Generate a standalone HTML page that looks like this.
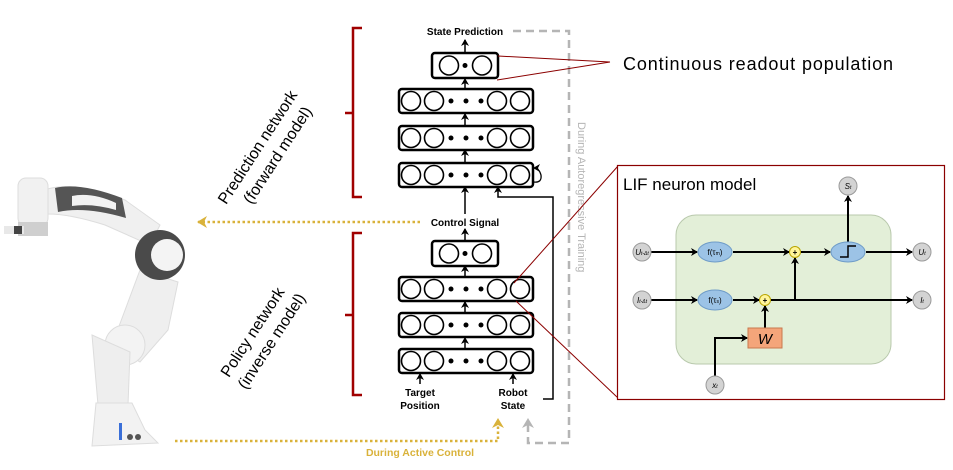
<!DOCTYPE html>
<html><head><meta charset="utf-8"><style>
html,body{margin:0;padding:0;background:#fff;}
svg{display:block;font-family:"Liberation Sans",Arial,sans-serif;}
</style></head><body>
<svg width="953" height="470" viewBox="0 0 953 470" xmlns="http://www.w3.org/2000/svg">
<defs>
<marker id="ab" markerWidth="8" markerHeight="8" refX="6" refY="4" orient="auto" markerUnits="userSpaceOnUse"><path d="M0,0 L7,4 L0,8 L2,4 Z" fill="#000"/></marker>
<marker id="ay" markerWidth="12" markerHeight="12" refX="9" refY="6" orient="auto" markerUnits="userSpaceOnUse"><path d="M0,0 L10,6 L0,12 L3,6 Z" fill="#d9b23a"/></marker>
<marker id="ag" markerWidth="12" markerHeight="12" refX="9" refY="6" orient="auto" markerUnits="userSpaceOnUse"><path d="M0,0 L10,6 L0,12 L3,6 Z" fill="#b5b5b5"/></marker>
<g id="big"><rect x="0" y="0" width="134" height="24" rx="3" fill="#fff" stroke="#000" stroke-width="2.5"/>
<circle cx="12" cy="12" r="9.5" fill="#fff" stroke="#000" stroke-width="1.6"/><circle cx="35" cy="12" r="9.5" fill="#fff" stroke="#000" stroke-width="1.6"/>
<circle cx="52" cy="12" r="2.5"/><circle cx="67" cy="12" r="2.5"/><circle cx="82" cy="12" r="2.5"/>
<circle cx="98" cy="12" r="9.5" fill="#fff" stroke="#000" stroke-width="1.6"/><circle cx="121" cy="12" r="9.5" fill="#fff" stroke="#000" stroke-width="1.6"/></g>
<g id="sm"><rect x="0" y="0" width="66" height="25" rx="3" fill="#fff" stroke="#000" stroke-width="2.5"/>
<circle cx="17" cy="12.5" r="9.5" fill="#fff" stroke="#000" stroke-width="1.6"/><circle cx="33" cy="12.5" r="2.5"/><circle cx="50" cy="12.5" r="9.5" fill="#fff" stroke="#000" stroke-width="1.6"/></g>
</defs>

<!-- robot arm -->
<g>
<path d="M45,190 Q70,180 125,200 L160,225 L150,245 L105,225 Q70,214 48,214 Z" fill="#f0f0f0" stroke="#ddd"/>
<path d="M55,188 Q80,182 122,198 L126,218 Q85,206 58,212 Z" fill="#555"/>
<path d="M72,196 Q92,192 116,203 L116,210 Q92,203 72,206 Z" fill="#f2f2f2"/>
<rect x="18" y="178" width="30" height="48" rx="8" fill="#f1f1f1" stroke="#ddd"/>
<rect x="18" y="222" width="30" height="14" fill="#cfcfcf"/>
<rect x="4" y="226" width="20" height="8" fill="#e8e8e8"/>
<rect x="14" y="226" width="8" height="8" fill="#444"/>
<path d="M140,270 L178,282 L168,330 L140,362 L112,345 Z" fill="#efefef" stroke="#ddd"/>
<circle cx="160" cy="255" r="25" fill="#4a4a4a"/>
<circle cx="167" cy="255" r="16" fill="#f4f4f4"/>
<circle cx="125" cy="345" r="20" fill="#f3f3f3" stroke="#ddd"/>
<path d="M92,335 L130,352 L128,405 L98,405 Z" fill="#eeeeee" stroke="#ddd"/>
<path d="M96,403 L132,403 L145,430 L158,443 L92,446 Z" fill="#f2f2f2" stroke="#ddd"/>
<rect x="119" y="423" width="3" height="17" fill="#3a6fd8"/>
<circle cx="130" cy="437" r="3" fill="#555"/><circle cx="138" cy="437" r="3" fill="#555"/>
</g>

<!-- yellow dotted -->
<line x1="420" y1="222" x2="198" y2="222" stroke="#d9b23a" stroke-width="2.5" stroke-dasharray="2.5,2.5" marker-end="url(#ay)"/>
<polyline points="175,441 498,441 498,419" fill="none" stroke="#d9b23a" stroke-width="2.5" stroke-dasharray="2.5,2.5" marker-end="url(#ay)"/>
<text x="420" y="456" font-size="10.5" font-weight="bold" fill="#d9b23a" text-anchor="middle">During Active Control</text>

<!-- gray dashed -->
<polyline points="513,31 569,31 569,443 528,443 528,419" fill="none" stroke="#b5b5b5" stroke-width="2.5" stroke-dasharray="8,5" marker-end="url(#ag)"/>
<text transform="translate(578,122) rotate(90)" font-size="11" fill="#b5b5b5">During Autoregressive Training</text>

<!-- brackets -->
<path d="M362,28 L353,28 L353,197 L362,197 M353,113 L345,113" fill="none" stroke="#a00000" stroke-width="2.5"/>
<path d="M362,233 L353,233 L353,395 L362,395 M353,315 L345,315" fill="none" stroke="#a00000" stroke-width="2.5"/>
<text transform="translate(262,150) rotate(-57)" font-size="16" text-anchor="middle">Prediction network</text>
<text transform="translate(282,158) rotate(-57)" font-size="16" text-anchor="middle">(forward model)</text>
<text transform="translate(257,335) rotate(-57)" font-size="16" text-anchor="middle">Policy network</text>
<text transform="translate(276,344) rotate(-57)" font-size="16" text-anchor="middle">(inverse model)</text>

<!-- network -->
<text x="465" y="35" font-size="10" font-weight="bold" text-anchor="middle">State Prediction</text>
<use href="#sm" x="432" y="53"/>
<use href="#big" x="399" y="89"/>
<use href="#big" x="399" y="126"/>
<use href="#big" x="399" y="163"/>
<text x="465" y="226" font-size="10" font-weight="bold" text-anchor="middle">Control Signal</text>
<use href="#sm" x="432" y="241"/>
<use href="#big" x="399" y="277"/>
<use href="#big" x="399" y="313"/>
<use href="#big" x="399" y="349"/>
<g stroke="#000" stroke-width="1.5" marker-end="url(#ab)">
<line x1="465" y1="52" x2="465" y2="40"/>
<line x1="465" y1="88" x2="465" y2="79"/>
<line x1="465" y1="125" x2="465" y2="114"/>
<line x1="465" y1="162" x2="465" y2="150"/>
<line x1="465" y1="214" x2="465" y2="187"/>
<line x1="465" y1="240" x2="465" y2="229"/>
<line x1="465" y1="276" x2="465" y2="266"/>
<line x1="465" y1="312" x2="465" y2="302"/>
<line x1="465" y1="348" x2="465" y2="338"/>
<line x1="420" y1="384" x2="420" y2="374"/>
<line x1="513" y1="384" x2="513" y2="374"/>
<polyline points="543,399 553,399 553,197 498,197 498,187" fill="none"/>
</g>
<path d="M534,182 Q542,183 541,175 Q539,168 534,168" fill="none" stroke="#000" stroke-width="1.3" marker-end="url(#ab)"/>
<text x="420" y="396" font-size="10" font-weight="bold" text-anchor="middle">Target</text>
<text x="420" y="409" font-size="10" font-weight="bold" text-anchor="middle">Position</text>
<text x="513" y="396" font-size="10" font-weight="bold" text-anchor="middle">Robot</text>
<text x="513" y="409" font-size="10" font-weight="bold" text-anchor="middle">State</text>

<!-- red lines -->
<g stroke="#8b0000" stroke-width="1">
<line x1="498" y1="56" x2="610" y2="62"/><line x1="497" y1="80" x2="610" y2="62"/>
<line x1="514" y1="283" x2="618" y2="166"/><line x1="516" y1="301" x2="618" y2="398"/>
</g>
<text x="623" y="70" font-size="18" textLength="270">Continuous readout population</text>

<!-- LIF -->
<rect x="617.5" y="165.5" width="327" height="234" fill="#fff" stroke="#8b0000" stroke-width="1.2"/>
<text x="623" y="190" font-size="17">LIF neuron model</text>
<rect x="676" y="215" width="215" height="149" rx="20" fill="#e3efd8" stroke="#b9c9ad"/>
<g stroke="#000" stroke-width="2" fill="none" marker-end="url(#ab)">
<line x1="651" y1="252" x2="697" y2="252"/>
<line x1="733" y1="252" x2="789" y2="252"/>
<line x1="801" y1="252" x2="830" y2="252"/>
<line x1="866" y1="252" x2="912" y2="252"/>
<line x1="848" y1="242" x2="848" y2="196"/>
<line x1="651" y1="300" x2="697" y2="300"/>
<line x1="733" y1="300" x2="759" y2="300"/>
<line x1="771" y1="300" x2="912" y2="300"/>
<line x1="795" y1="300" x2="795" y2="258"/>
<line x1="765" y1="328" x2="765" y2="306"/>
<polyline points="715,376 715,338 747,338"/>
</g>
<g fill="#d3d3d3" stroke="#9a9a9a">
<circle cx="642" cy="252" r="9"/><circle cx="642" cy="300" r="9"/>
<circle cx="848" cy="186" r="9"/><circle cx="922" cy="252" r="9"/><circle cx="922" cy="300" r="9"/><circle cx="715" cy="385" r="9"/>
</g>
<g font-size="8" font-style="italic" text-anchor="middle">
<text x="642" y="255">U<tspan font-size="5">t-Δt</tspan></text>
<text x="642" y="303">I<tspan font-size="5">t-Δt</tspan></text>
<text x="848" y="189">S<tspan font-size="5">t</tspan></text>
<text x="922" y="255">U<tspan font-size="5">t</tspan></text>
<text x="922" y="303">I<tspan font-size="5">t</tspan></text>
<text x="715" y="388">x<tspan font-size="5">t</tspan></text>
</g>
<g fill="#9cc3e6" stroke="#6f9cc8">
<ellipse cx="715" cy="252" rx="17" ry="10"/><ellipse cx="715" cy="300" rx="17" ry="10"/><ellipse cx="848" cy="252" rx="17" ry="10"/>
</g>
<text x="715" y="255" font-size="8" text-anchor="middle">f(τ<tspan font-size="5">m</tspan>)</text>
<text x="715" y="303" font-size="8" text-anchor="middle">f(τ<tspan font-size="5">s</tspan>)</text>
<polyline points="840,257 848,257 848,246 856,246" fill="none" stroke="#000" stroke-width="1.5"/>
<g fill="#fff59a" stroke="#b9a400"><circle cx="795" cy="252" r="5.5"/><circle cx="765" cy="300" r="5.5"/></g>
<text x="795" y="255" font-size="8" text-anchor="middle" font-weight="bold">+</text>
<text x="765" y="303" font-size="8" text-anchor="middle" font-weight="bold">+</text>
<rect x="748" y="328" width="34" height="20" fill="#f4a57a" stroke="#c8794e"/>
<text x="765" y="344" font-size="15" font-style="italic" text-anchor="middle">W</text>
</svg>
</body></html>
